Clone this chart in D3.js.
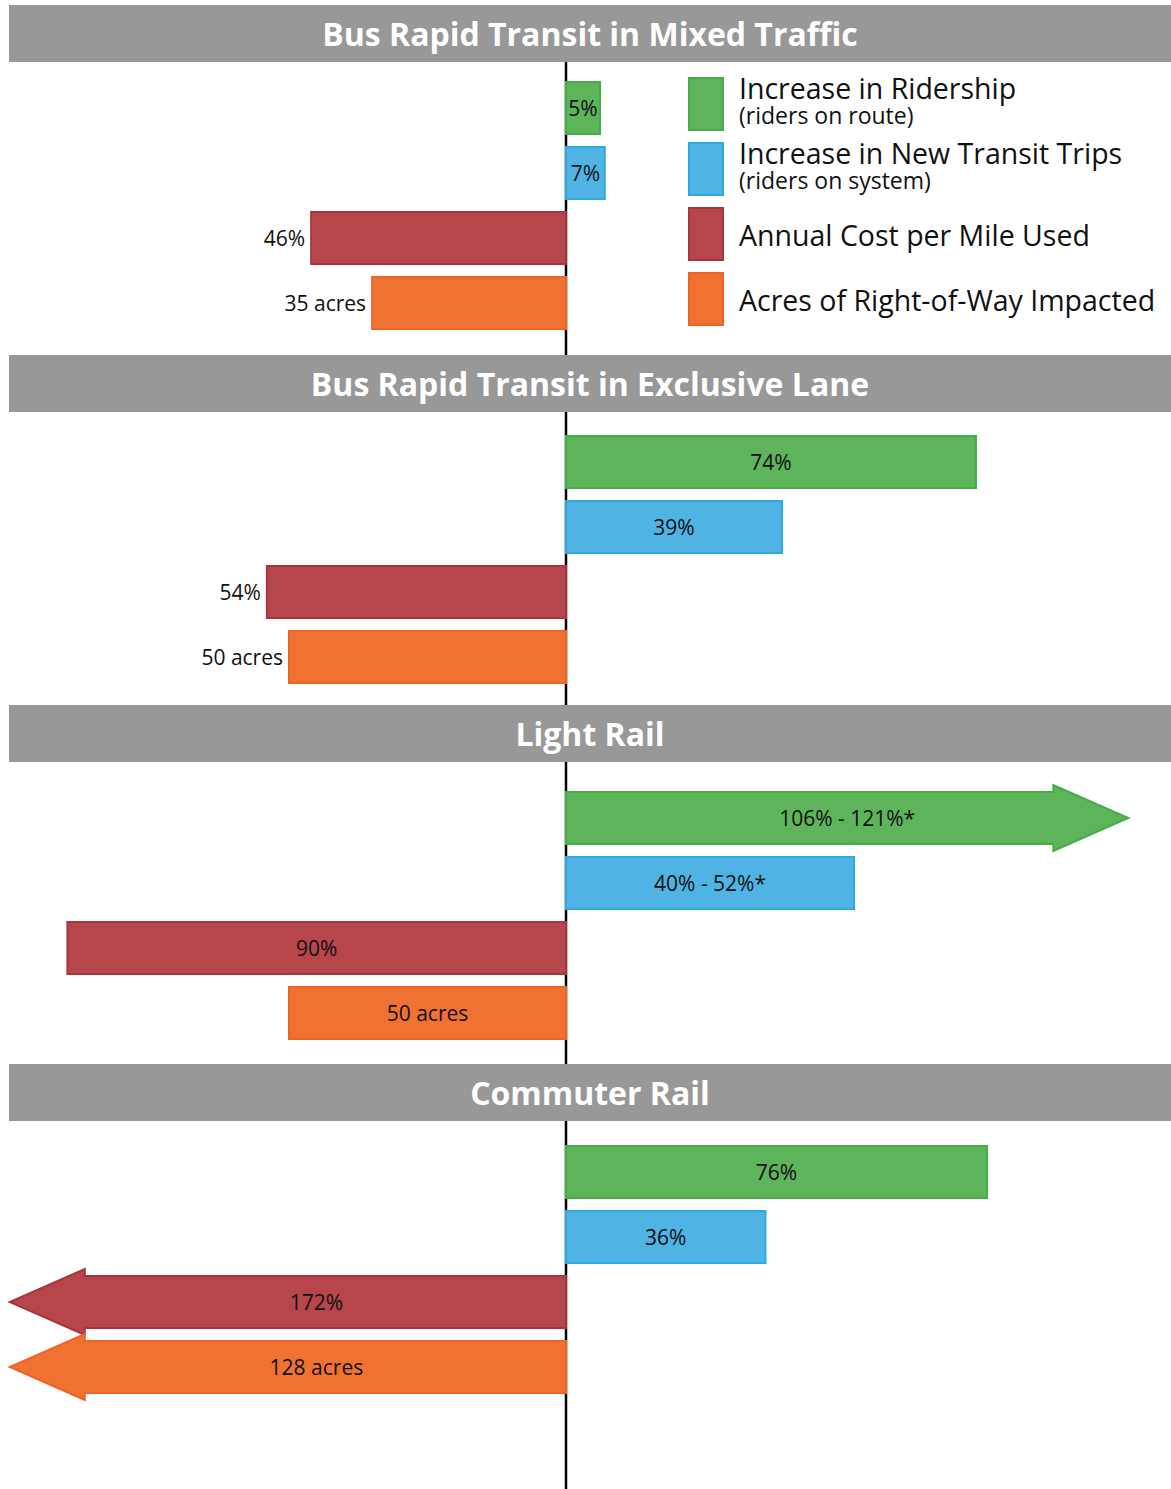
<!DOCTYPE html>
<html>
<head>
<meta charset="utf-8">
<script src="https://cdn.jsdelivr.net/npm/d3@7"></script>
<style>
  body { margin: 0; background: #fff; }
  text { font-family: "Open Sans", "Noto Sans", sans-serif; }
</style>
</head>
<body>
<div id="chart"></div>
<script>
// modes and measures
const panels = ['Bus Rapid Transit in Mixed Traffic', 'Bus Rapid Transit in Exclusive Lane', 'Light Rail', 'Commuter Rail'];
const measures = ['ridership', 'trips', 'cost', 'acres'];
const legendLabels = ['Increase in Ridership', 'Increase in New Transit Trips', 'Annual Cost per Mile Used', 'Acres of Right-of-Way Impacted'];
const legendNotes = ['(riders on route)', '(riders on system)', '', ''];

// values (ranges as [low, high])
const ridership = [5, 74, [106, 121], 76];
const trips = [7, 39, [40, 52], 36];
const cost = [46, 54, 90, 172];
const acres = [35, 50, 50, 128];

const colors = { ridership: '#5db45a', trips: '#4fb3e4', cost: '#b6464b', acres: '#ef7233' };
const strokes = { ridership: '#44ad4a', trips: '#2ea9e0', cost: '#a9343c', acres: '#ee6425' };

const width = 1171, height = 1489;
const panelTop = [5, 355, 705, 1064];
const barOffset = [77, 81, 87, 82];   // header top -> first bar
const headerH = 57, barH = 52, rowStep = 65;

const svg = d3.select('#chart').append('svg')
    .attr('width', width)
    .attr('height', height);

const x = d3.scaleLinear().domain([-100, 100]).range([12, 1120]);
const maxRight = 101.5, maxLeft = -100.4;
const headLen = 75, headHalf = 33;

const series = { ridership, trips, cost, acres };

function fmt(m, v) {
    if (m === 'acres') return v + ' acres';
    if (Array.isArray(v)) return v[0] + '% - ' + v[1] + '%*';
    return v + '%';
}

// centre axis (sits behind the header bands)
svg.append('line')
    .attr('x1', x(0)).attr('x2', x(0))
    .attr('y1', panelTop[0] + headerH).attr('y2', height)
    .style('stroke', '#000').style('stroke-width', 2.5);

panels.forEach((name, p) => {
    const top = panelTop[p];

    // header band
    svg.append('rect')
        .attr('x', 9).attr('y', top)
        .attr('width', width - 9).attr('height', headerH)
        .style('fill', '#989898');
    svg.append('text')
        .attr('x', 590).attr('y', top + 41)
        .attr('text-anchor', 'middle')
        .style('font-size', '32px').style('font-weight', 'bold')
        .style('fill', '#fff')
        .text(name);

    measures.forEach((m, i) => {
        const raw = series[m][p];
        const v = Array.isArray(raw) ? raw[1] : raw;
        const signed = (m === 'cost' || m === 'acres') ? -v : v;
        const y0 = top + barOffset[p] + i * rowStep;
        const x0 = x(0);
        let labelX, outside = false;

        if (signed > maxRight || signed < maxLeft) {
            // value runs off the chart: draw an arrow
            const dir = signed > 0 ? 1 : -1;
            const tip = x(dir > 0 ? maxRight : maxLeft);
            const base = tip - dir * headLen;
            const cy = y0 + barH / 2;
            const pts = [[x0, y0], [base, y0], [base, cy - headHalf], [tip, cy],
                         [base, cy + headHalf], [base, y0 + barH], [x0, y0 + barH]];
            svg.append('path')
                .attr('d', d3.line()(pts) + 'Z')
                .style('fill', colors[m]).style('stroke', strokes[m]).style('stroke-width', 2);
            labelX = dir > 0 ? (x0 + tip) / 2 : (x0 + base) / 2 - 9;
        } else {
            let w = Math.abs(x(signed) - x0);
            w = Math.max(w, 34);
            const left = signed >= 0 ? x0 : x0 - w;
            svg.append('rect')
                .attr('x', left).attr('y', y0)
                .attr('width', w).attr('height', barH)
                .style('fill', colors[m]).style('stroke', strokes[m]).style('stroke-width', 2);
            outside = signed < 0 && p < 2;
            labelX = outside ? left - 6 : left + w / 2;
        }

        svg.append('text')
            .attr('x', labelX).attr('y', y0 + barH / 2 + 8)
            .attr('text-anchor', outside ? 'end' : 'middle')
            .style('font-size', '21px').style('fill', '#111')
            .text(fmt(m, raw));
    });
});

// legend
const lg = svg.append('g');
legendLabels.forEach((label, i) => {
    const y0 = 78 + i * rowStep;
    lg.append('rect')
        .attr('x', 689).attr('y', y0)
        .attr('width', 34).attr('height', barH)
        .style('fill', colors[measures[i]]).style('stroke', strokes[measures[i]]).style('stroke-width', 2);
    if (legendNotes[i]) {
        lg.append('text').attr('x', 739).attr('y', y0 + 21)
            .style('font-size', '28.5px').style('fill', '#111').text(label);
        lg.append('text').attr('x', 739).attr('y', y0 + 46)
            .style('font-size', '23px').style('fill', '#111').text(legendNotes[i]);
    } else {
        lg.append('text').attr('x', 739).attr('y', y0 + 38)
            .style('font-size', '28.5px').style('fill', '#111').text(label);
    }
});
</script>
</body>
</html>
